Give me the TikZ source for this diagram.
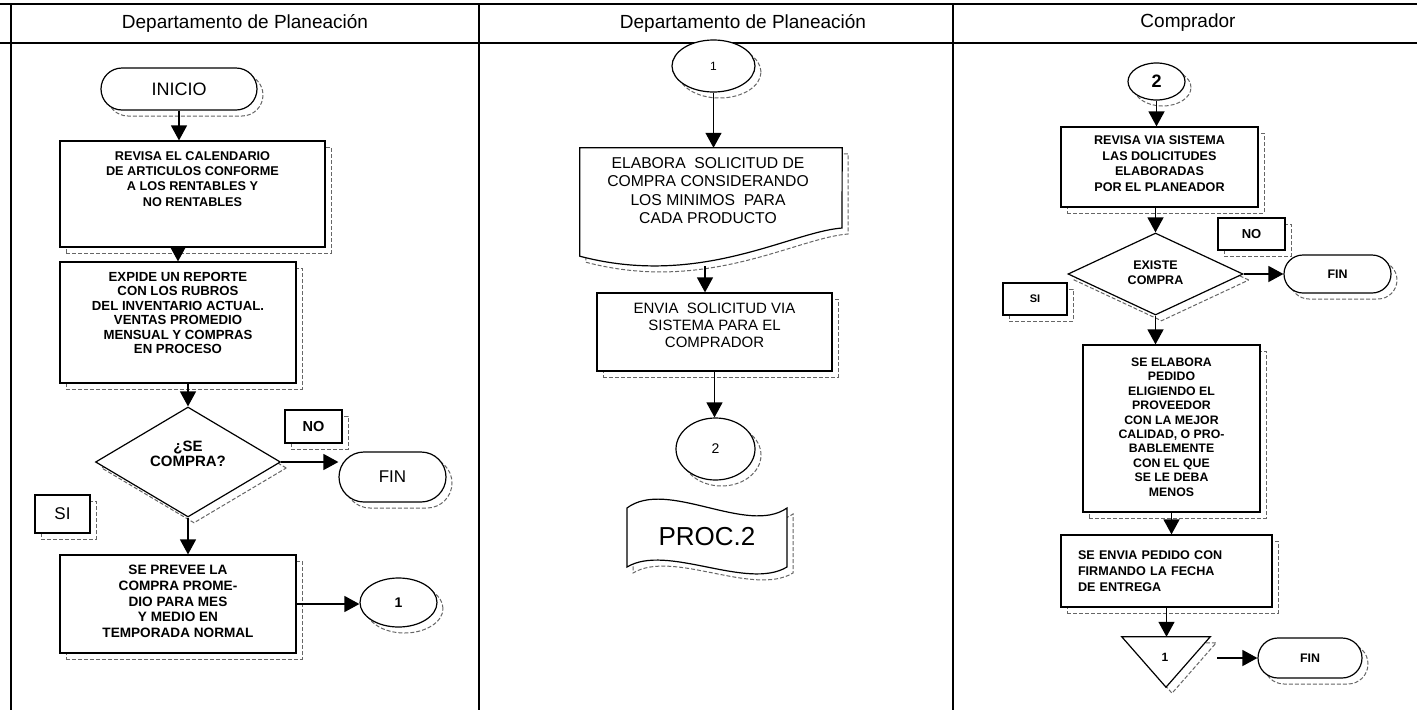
\documentclass[tikz,border=0pt]{standalone}
\usepackage{fontspec}
\setmainfont{Liberation Sans}
\usetikzlibrary{arrows.meta,shapes.geometric,shapes.misc,shadows}
\newcommand{\fz}[2]{\fontsize{#1}{#2}\selectfont}
\newcommand{\upbox}[2]{\raisebox{#1}[\height][\depth]{\begin{tabular}{@{}c@{}}#2\end{tabular}}}
\begin{document}
\begin{tikzpicture}[x=1pt,y=-1pt,
  frame/.style={line width=1.3pt},
  shad/.style={general shadow={shadow xshift=6pt,shadow yshift=-6pt,fill=white,draw=black!60,line width=1pt,dash pattern=on 4pt off 2pt}},
  outl/.style={draw,line width=1.2pt,fill=white,shad},
  box/.style={outl,rectangle,inner sep=2pt,align=center},
  lab/.style={outl,rectangle,inner sep=1pt},
  term/.style={outl,rounded rectangle,inner sep=1pt},
  conn/.style={outl,ellipse,inner sep=0pt},
  dia/.style={outl,diamond,inner sep=0pt,align=center},
  arr/.style={line width=1.4pt,-{Triangle[length=15pt,width=16pt]}},
  hdr/.style={font=\fz{19}{22}}
]
\useasboundingbox (0,0) rectangle (1417,710);

% frame
\draw[frame] (0,4) -- (1417,4);
\draw[frame] (0,43) -- (1417,43);
\draw[frame] (11,4) -- (11,710);
\draw[frame] (479,4) -- (479,710);
\draw[frame] (953,4) -- (953,710);
\node[hdr] (h1) at (245,23) {Departamento de Planeación};
\node[hdr] (h2) at (743,23) {Departamento de Planeación};
\node[hdr] (h3) at (1188,23) {Comprador};

% ---------- column 1
\node[term,minimum width=158pt,minimum height=42pt,font=\fz{18}{20}] (inicio) at (179,89) {INICIO};
\node[box,minimum width=265pt,minimum height=106pt,font=\fz{12.7}{15.3}\bfseries] (rev1) at (192.5,194)
  {\upbox{14pt}{REVISA EL CALENDARIO\\DE ARTICULOS CONFORME\\A LOS RENTABLES Y\\NO RENTABLES}};
\node[box,minimum width=236pt,minimum height=121pt,font=\fz{13.2}{14.5}\bfseries] (exp) at (178,322.5)
  {\upbox{8pt}{EXPIDE UN REPORTE\\CON LOS RUBROS\\DEL INVENTARIO ACTUAL.\\VENTAS PROMEDIO\\MENSUAL Y COMPRAS\\EN PROCESO}};
\node[dia,minimum width=185pt,minimum height=110pt,aspect=1.68,font=\fz{15}{15}\bfseries] (dia1) at (188,462)
  {\upbox{6pt}{¿SE\\COMPRA?}};
\node[lab,minimum width=57pt,minimum height=33pt,font=\fz{14.5}{15}\bfseries] (no1) at (313.5,426.5) {NO};
\node[term,minimum width=109pt,minimum height=50pt,font=\fz{17}{18}] (fin1) at (392.5,477) {FIN};
\node[lab,minimum width=55pt,minimum height=38pt,font=\fz{17}{18}] (si1) at (62.5,514) {SI};
\node[box,minimum width=236pt,minimum height=98pt,font=\fz{13.6}{15.7}\bfseries] (prev) at (178,604)
  {\upbox{1pt}{SE PREVEE LA\\COMPRA PROME-\\DIO PARA MES\\Y MEDIO EN\\TEMPORADA NORMAL}};
\node[conn,minimum width=77pt,minimum height=49pt,font=\fz{14}{14}\bfseries] (c1) at (398.5,602.5) {1};

\draw[arr] (inicio.south) -- (inicio.south |- rev1.north);
\draw[arr] (rev1.south -| exp.north) -- (exp.north);
\draw[arr] (exp.south -| dia1.north) -- (dia1.north);
\draw[arr] (dia1.east) -- (dia1.east -| fin1.west);
\draw[arr] (dia1.south) -- (dia1.south |- prev.north);
\draw[arr] (prev.east) -- (prev.east -| c1.west);

% ---------- column 2
\node[conn,minimum width=83pt,minimum height=52pt,font=\fz{12}{12}] (c1b) at (713.5,66) {1};
\node[minimum width=262pt,minimum height=108pt,inner sep=0pt,font=\fz{15.7}{18.5}] (doc) at (711,202) {};
\draw[line width=1.2pt,fill=white,shad] (doc.north west) -- (doc.north east) -- (842,228)
  .. controls (790,232) and (700,288) .. (doc.south west) -- cycle;
\node[inner sep=0pt,font=\fz{15.7}{18.5}] (doctext) at (708,192.5)
  {\upbox{0pt}{ELABORA\ \ SOLICITUD DE\\COMPRA CONSIDERANDO\\LOS MINIMOS\ \ PARA\\CADA PRODUCTO}};
\coordinate (docb) at (705,266);
\node[box,minimum width=235pt,minimum height=78pt,font=\fz{15}{17}] (env) at (714.5,332)
  {\upbox{5pt}{ENVIA\ \ SOLICITUD VIA\\SISTEMA PARA EL\\COMPRADOR}};
\node[conn,minimum width=79pt,minimum height=62pt,font=\fz{14}{14}] (c2) at (715.5,449) {2};
\node[minimum width=160pt,minimum height=56pt,inner sep=0pt] (proc) at (707,537) {};
\draw[line width=1.2pt,fill=white,shad] (627,508) .. controls (667,478) and (747,536) .. (787,508)
  -- (787,567) .. controls (747,591) and (667,543) .. (627,567) -- cycle;
\node[font=\fz{26}{28},inner sep=0pt] (proctext) at (proc.center) {PROC.2};

\draw[arr] (c1b.south) -- (c1b.south |- doc.north);
\draw[arr] (docb) -- (docb |- env.north);
\draw[arr] (env.south) -- (env.south |- c2.north);

% ---------- column 3
\node[conn,minimum width=57pt,minimum height=37pt,font=\fz{18}{18}\bfseries] (c2b) at (1156.5,81.5) {2};
\node[box,minimum width=197pt,minimum height=80pt,font=\fz{12.6}{15.5}\bfseries] (rev3) at (1159.5,167)
  {\upbox{2pt}{REVISA VIA SISTEMA\\LAS DOLICITUDES\\ELABORADAS\\POR EL PLANEADOR}};
\node[dia,minimum width=175pt,minimum height=82pt,aspect=2.13,font=\fz{12.5}{15}\bfseries] (dia3) at (1155.5,274)
  {\upbox{0pt}{EXISTE\\COMPRA}};
\node[lab,minimum width=67pt,minimum height=32pt,font=\fz{13}{14}\bfseries] (no3) at (1251.5,234) {NO};
\node[term,minimum width=109pt,minimum height=38pt,font=\fz{12.4}{13}\bfseries] (fin3) at (1337.5,274) {FIN};
\node[lab,minimum width=64pt,minimum height=32pt,font=\fz{11}{12}\bfseries] (si3) at (1035,299) {SI};
\node[box,minimum width=177pt,minimum height=167pt,font=\fz{12.3}{14.4}\bfseries] (elab) at (1171.5,428.5)
  {\upbox{0pt}{SE ELABORA\\PEDIDO\\ELIGIENDO EL\\PROVEEDOR\\CON LA MEJOR\\CALIDAD, O PRO-\\BABLEMENTE\\CON EL QUE\\SE LE DEBA\\MENOS}};
\node[outl,rectangle,inner sep=2pt,minimum width=211pt,minimum height=72pt,text width=177pt,align=left,font=\fz{12.6}{16}\bfseries] (envp) at (1166.5,571)
  {SE ENVIA PEDIDO CON\\FIRMANDO LA FECHA\\DE ENTREGA};
\node[minimum width=88pt,minimum height=50pt,inner sep=0pt] (tri) at (1166,662) {};
\draw[line width=1.2pt,fill=white,shad] (tri.north west) -- (tri.north east) -- (tri.south) -- cycle;
\node[font=\fz{12}{12}\bfseries,inner sep=0pt] (tritext) at (1165,657) {1};
\node[term,minimum width=106pt,minimum height=40pt,font=\fz{12.4}{13}\bfseries] (fin4) at (1310,658) {FIN};
\coordinate (trie) at ([xshift=7pt]tri.east);

\draw[arr] (c2b.south) -- (c2b.south |- rev3.north);
\draw[arr] (rev3.south -| dia3.north) -- (dia3.north);
\draw[arr] (dia3.east) -- (dia3.east -| fin3.west);
\draw[arr] (dia3.south) -- (dia3.south |- elab.north);
\draw[arr] (elab.south) -- (elab.south |- envp.north);
\draw[arr] (envp.south) -- (envp.south |- tri.north);
\draw[arr] (trie |- fin4.west) -- (fin4.west);
\end{tikzpicture}
\end{document}
